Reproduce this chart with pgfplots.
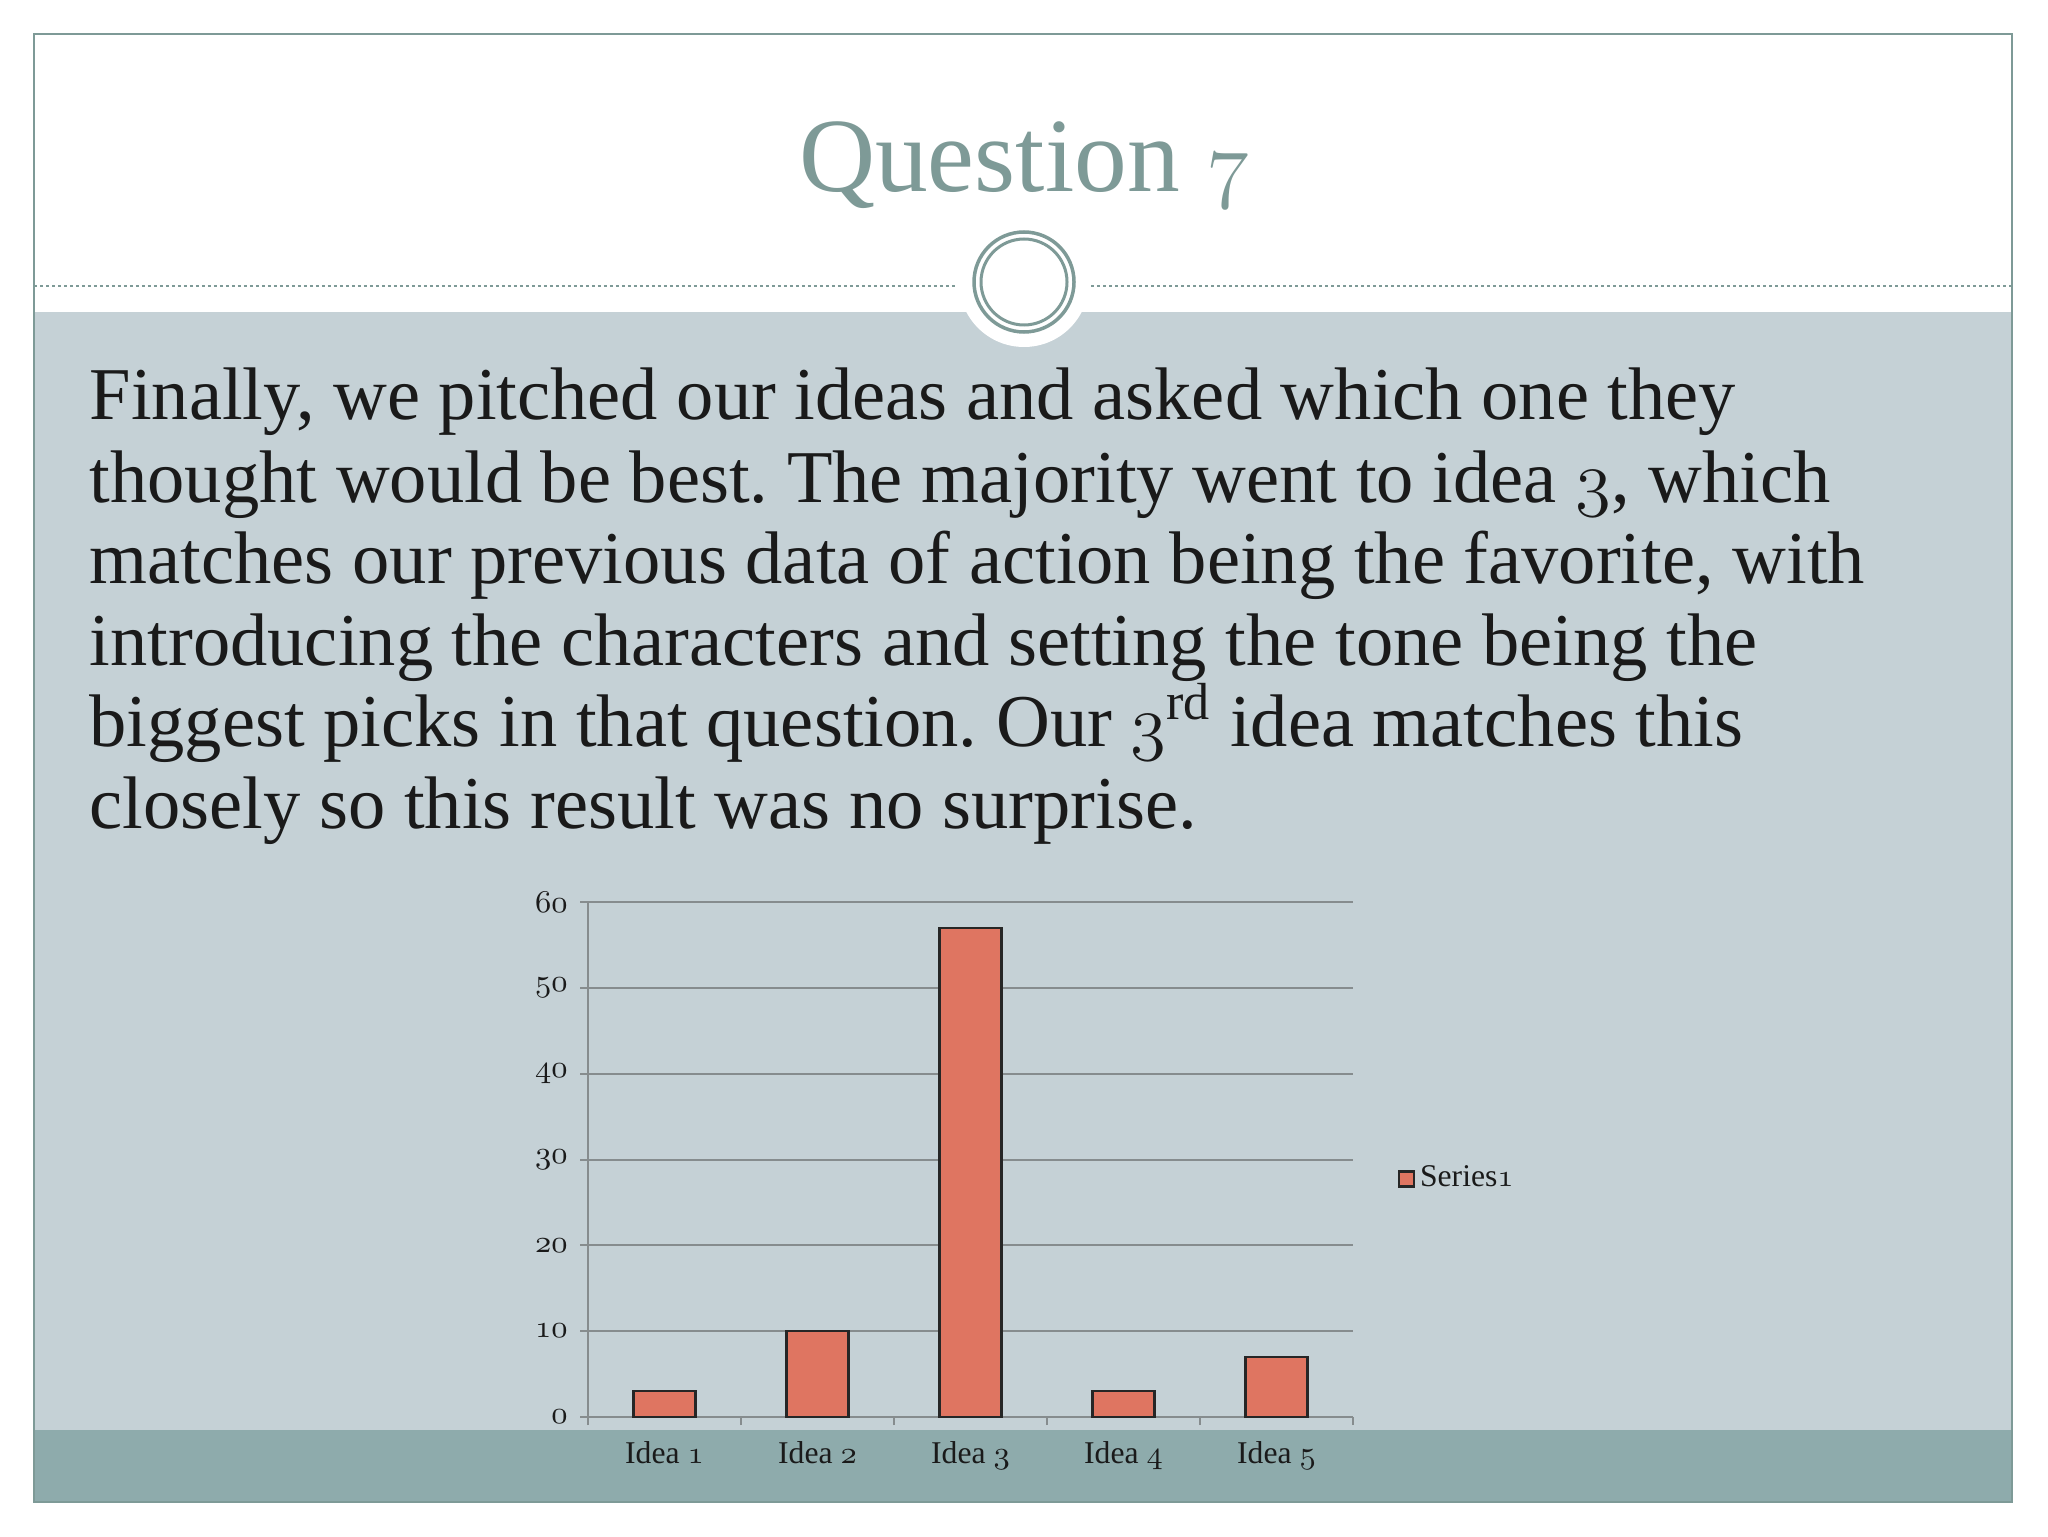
\documentclass[border=0pt]{standalone}
\usepackage{pgfplots}
\pgfplotsset{compat=1.18}
\usepackage{fontspec}
\setmainfont{Liberation Serif}
\frenchspacing

% old-style figures, as in the slide font
\newcommand{\osn}[1]{{\usefont{OML}{cmm}{m}{it}#1}}

\definecolor{framecol}{HTML}{7E9A97}
\definecolor{bandlight}{HTML}{C5D1D6}
\definecolor{banddark}{HTML}{8EABAC}
\definecolor{barcol}{HTML}{DF7561}
\definecolor{gridcol}{HTML}{868C8E}
\definecolor{bodytext}{HTML}{1A1A1A}

\pgfplotsset{sqlegend/.style={legend image code/.code={\draw[##1] (0mm,-0.75mm) rectangle (1.5mm,0.75mm);}}}

\begin{document}
\begin{tikzpicture}[x=0.1mm,y=0.1mm]
% page
\fill[white] (0,0) rectangle (2048,1536);
\path[use as bounding box] (0,0) rectangle (2048,1536);
\fill[bandlight] (34,106) rectangle (2012,1224);
\fill[banddark] (34,34) rectangle (2012,106);
\draw[framecol, line width=0.25mm, dash pattern=on 0.3mm off 0.3mm] (34,1250) -- (956,1250);
\draw[framecol, line width=0.25mm, dash pattern=on 0.3mm off 0.3mm] (1091,1250) -- (2012,1250);
\fill[white] (1024,1254) circle (65);
\draw[framecol, line width=0.35mm] (1024,1254) circle (50);
\draw[framecol, line width=0.3mm] (1024,1254) circle (43);
\draw[framecol, line width=0.25mm] (34,34) rectangle (2012,1502);

% title
\node[anchor=base, text=framecol, font=\fontsize{30}{36}\selectfont] at (1024,1344) {Question \osn{7}};

% body text
\begin{scope}[every node/.style={anchor=base west, inner sep=0pt, text=bodytext, font=\fontsize{21.2}{25}\selectfont}]
\node at (89,1116) {Finally, we pitched our ideas and asked which one they};
\node at (89,1034) {thought would be best. The majority went to idea \osn{3}, which};
\node at (89,953) {matches our previous data of action being the favorite, with};
\node at (89,871) {introducing the characters and setting the tone being the};
\node at (89,790) {biggest picks in that question. Our \osn{3}\textsuperscript{rd} idea matches this};
\node at (89,708) {closely so this result was no surprise.};
\end{scope}

\coordinate (axorigin) at (588,119);

% chart
\begin{axis}[
    at={(axorigin)}, anchor=south west,
    scale only axis,
    width=76.5mm, height=51.5mm,
    xmin=0.5, xmax=5.5,
    ymin=0, ymax=60,
    axis x line*=bottom,
    axis y line*=left,
    axis line style={draw=gridcol, line width=0.25mm},
    tick style={draw=gridcol, line width=0.2mm},
    tick align=outside,
    major tick length=0.8mm,
    ytick={0,10,20,30,40,50,60},
    yticklabels={\osn{0},\osn{10},\osn{20},\osn{30},\osn{40},\osn{50},\osn{60}},
    ymajorgrids=true,
    grid style={draw=gridcol, line width=0.2mm},
    xtick={0.5,1.5,2.5,3.5,4.5,5.5},
    xticklabels={,,,,,},
    extra x ticks={1,2,3,4,5},
    extra x tick labels={Idea \osn{1},Idea \osn{2},Idea \osn{3},Idea \osn{4},Idea \osn{5}},
    extra x tick style={major tick length=0pt, xticklabel style={yshift=-1.2mm}},
    tick label style={font=\fontsize{9}{11}\selectfont, text=bodytext},
    legend style={at={(1.044,0.462)}, anchor=west, draw=none, fill=none,
        font=\fontsize{9}{11}\selectfont, text=bodytext,
        legend cell align=left, nodes={inner xsep=0.5mm}},
]
\addplot[ybar, bar width=6.2mm, fill=barcol, draw=black!85, line width=0.22mm, sqlegend]
    coordinates {(1,3) (2,10) (3,57) (4,3) (5,7)};
\addlegendentry{Series\osn{1}}
\end{axis}
\end{tikzpicture}
\end{document}
